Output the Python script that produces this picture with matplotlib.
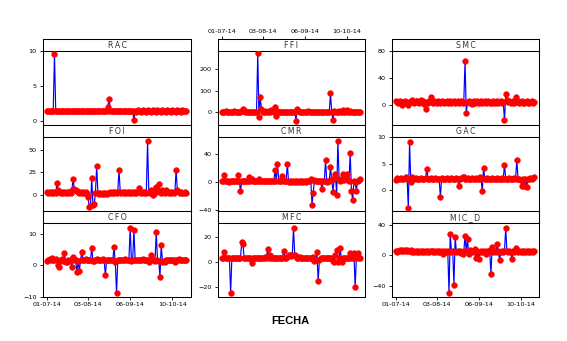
import numpy as np
import pandas as pd
import matplotlib
matplotlib.use("Agg")
import matplotlib.pyplot as plt
import matplotlib.dates as mdates

dates = pd.date_range("2014-07-01", periods=113, freq="D")

RAC = [1.5, 1.5, 1.5, 1.5, 1.5, 1.5, 9.6, 1.5, 1.5, 1.5,
       1.5, 1.5, 1.5, 1.5, 1.5, 1.5, 1.5, 1.5, 1.5, 1.5,
       1.5, 1.5, 1.5, 1.5, 1.5, 1.5, 1.5, 1.5, 1.5, 1.5,
       1.5, 1.5, 1.5, 1.5, 1.5, 1.5, 1.5, 1.5, 1.5, 1.5,
       1.5, 1.5, 1.5, 1.5, 1.5, 1.5, 1.5, 1.5, 1.5, 2.0,
       3.2, 1.5, 1.5, 1.5, 1.5, 1.5, 1.5, 1.5, 1.5, 1.5,
       1.5, 1.5, 1.5, 1.5, 1.5, 1.5, 1.5, 1.5, 1.5, 1.5,
       0.1, 1.5, 1.3, 1.6, 1.4, 1.5, 1.3, 1.6, 1.4, 1.5,
       1.3, 1.6, 1.4, 1.5, 1.3, 1.6, 1.4, 1.5, 1.3, 1.6,
       1.4, 1.5, 1.3, 1.6, 1.4, 1.5, 1.3, 1.6, 1.4, 1.5,
       1.3, 1.6, 1.4, 1.5, 1.3, 1.6, 1.4, 1.5, 1.3, 1.6,
       1.4, 1.5, 1.5]

FFI = [2, 1, 3, 4, 2, 1, 2, 1, 2, 1,
       8, 2, 1, 3, 2, 1, 4, 15, 12, 2,
       1, 2, 1, 3, 2, 1, 2, 1, 3, 272,
       -22, 70, 15, 2, 1, 5, 2, 1, 8, 2,
       12, 10, 2, 25, -17, 5, 2, 1, 2, 1,
       2, 1, 3, 2, 1, 2, 1, 2, 1, 2,
       -38, 15, 5, 2, 1, 2, 1, 2, 1, 2,
       8, 2, 1, 2, 1, 2, 1, 2, 1, 2,
       1, 2, 1, 2, 1, 2, 1, 2, 88, 2,
       -35, 5, 2, 1, 2, 8, 2, 1, 10, 2,
       1, 12, 2, 1, 5, 2, 1, 2, 3, 1,
       2, 1, 2]

SMC = [6, 5, 4, 6, 5, 0, 5, 6, 4, 5,
       0, 5, 6, 8, 5, 4, 6, 7, 5, 4,
       8, 5, 6, 2, -6, 5, 4, 6, 12, 5,
       4, 6, 5, 4, 6, 5, 4, 6, 5, 4,
       5, 6, 4, 5, 6, 4, 5, 6, 4, 5,
       6, 4, 5, 6, 4, 5, 66, -11, 5, 6,
       4, 5, 2, 6, 4, 5, 6, 4, 5, 6,
       4, 5, 6, 4, 5, 6, 4, 5, 3, 6,
       4, 5, 6, 4, 5, 6, 4, 5, -22, 16,
       8, 5, 6, 4, 5, 6, 4, 12, 5, 6,
       4, 5, 6, 4, 3, 5, 6, 4, 4, 5,
       6, 4, 5]

FOI = [3, 2, 3, 2, 3, 2, 3, 2, 13, 5,
       3, 2, 3, 2, 3, 2, 3, 2, 3, 2,
       5, 18, 6, 5, 4, 3, 2, 3, 2, 3,
       2, 3, 1, -3, -14, -13, 19, -12, -11, 2,
       32, 2, 1, 2, 1, 2, 1, 2, 1, 2,
       2, 3, 2, 3, 2, 3, 2, 3, 28, 3,
       2, 3, 2, 3, 2, 3, 2, 3, 2, 3,
       2, 3, 2, 3, 8, 3, 2, 3, 2, 3,
       2, 60, 3, 2, 5, 0, 5, 2, 9, 4,
       12, 3, 2, 5, 3, 2, 5, 3, 2, 3,
       2, 3, 2, 3, 28, 5, 3, 2, 3, 2,
       2, 3, 2]

CMR = [2, 1, 10, 2, 1, 2, 0, 2, 1, 2,
       1, 2, 1, 10, 2, -13, 2, 1, 2, 1,
       2, 1, 7, 2, 4, 2, 1, 2, 1, 2,
       4, 2, 1, 2, 1, 2, 1, 2, 1, 2,
       1, 2, 1, 17, 2, 26, 2, 1, 2, 9,
       2, 1, 2, 26, 0, 1, 0, 1, 0, 1,
       0, 1, 0, 1, 0, 1, 0, 1, 0, 1,
       2, 1, 4, -32, -15, 3, 1, 2, 1, 2,
       1, -10, 2, 1, 31, 0, 2, 1, 21, 4,
       -14, 4, 12, -19, 59, 4, 2, 3, 12, 3,
       4, 12, 3, 1, 41, -12, -26, 1, 0, -12,
       2, 3, 5]

GAC = [2.0, 2.4, 2.2, 2.1, 2.3, 2.2, 2.1, 2.3, 2.6, 2.2,
       -3.4, 9.1, 1.5, 2.6, 2.2, 2.1, 2.3, 2.2, 2.1, 2.2,
       2.3, 2.2, 2.1, 2.2, 2.3, 4.1, 2.2, 2.1, 2.3, 2.2,
       2.1, 2.2, 2.3, 2.2, 2.1, 2.2, -1.2, 2.3, 2.2, 2.1,
       2.2, 2.3, 2.2, 2.1, 2.2, 2.3, 2.2, 2.1, 2.2, 2.3,
       2.2, 0.8, 2.2, 2.3, 2.6, 2.5, 2.2, 2.1, 2.3, 2.2,
       2.1, 2.2, 2.3, 2.2, 2.1, 2.4, 2.2, 2.1, 2.5, 2.2,
       -0.2, 4.3, 2.2, 2.1, 2.3, 2.2, 2.1, 2.2, 2.3, 2.2,
       2.1, 2.2, 2.3, 2.2, 2.1, 2.2, 2.3, 2.2, 4.8, 2.2,
       2.1, 2.2, 2.3, 2.2, 2.1, 2.2, 2.3, 2.2, 5.7, 2.2,
       2.1, 1.9, 0.8, 2.2, 0.9, 2.1, 0.6, 2.2, 2.1, 2.4,
       2.2, 2.3, 2.6]

CFO = [1.5, 1.6, 2.0, 1.8, 2.5, 1.9, 1.8, 2.0, 1.7, 0.0,
       -0.5, 1.8, 2.0, 1.5, 4.0, 1.0, 1.2, 1.8, 1.5, 1.9,
       -0.6, 2.8, 1.8, 1.6, -2.1, 1.5, -1.8, 1.8, 4.3, 1.9,
       1.8, 2.0, 1.7, 1.8, 1.9, 1.8, 5.7, 1.5, 1.4, 1.8,
       2.0, 1.8, 1.7, 1.9, 1.8, 2.0, 1.8, -3.1, 1.8, 1.9,
       1.8, 1.7, 1.9, 1.8, 5.9, 1.0, -8.9, 1.8, 1.9, 1.8,
       1.7, 1.9, 1.8, 2.0, 1.8, 1.7, 1.9, 12.1, 1.5, 1.8,
       11.3, 1.8, 1.9, 1.8, 1.7, 1.9, 1.8, 2.0, 1.8, 1.7,
       1.9, 1.8, 1.0, 1.8, 3.5, 1.9, 1.8, 1.5, 10.7, 1.8,
       1.5, -3.7, 6.5, 1.2, 1.3, 1.2, 1.8, 1.9, 1.8, 1.7,
       1.9, 1.8, 1.7, 1.0, 1.9, 1.8, 2.0, 1.8, 1.7, 1.9,
       1.8, 1.9, 1.8]

MFC = [3.5, 3.2, 8.5, 3.4, 3.3, 3.5, 3.2, -24.8, 3.4, 3.3,
       3.5, 3.2, 3.4, 3.3, 3.5, 3.2, 16.4, 14.3, 3.4, 3.3,
       3.5, 3.2, 3.4, 3.3, -0.8, 3.5, 3.2, 3.4, 3.3, 3.5,
       3.2, 3.4, 3.3, 3.5, 3.2, 4.5, 3.4, 10.6, 3.3, 6.0,
       3.5, 3.2, 3.4, 3.3, 3.5, 3.2, 3.4, 3.3, 3.5, 3.2,
       9.3, 3.4, 3.3, 4.5, 5.5, 6.0, 5.0, 5.5, 27.8, 6.0,
       5.0, 3.5, 3.2, 4.5, 3.3, 3.5, 3.2, 3.4, 3.3, 3.5,
       3.2, 3.4, 3.3, 3.5, 4.5, 1.0, 1.5, 8.0, -15.0, 1.5,
       3.5, 3.2, 3.4, 3.3, 3.5, 3.2, 3.4, 3.3, 3.5, 3.2,
       1.0, 0.5, 6.0, 10.0, 0.0, 3.4, 11.0, 0.0, 3.3, 3.5,
       3.2, 3.4, 3.3, 3.5, 7.4, 3.2, 3.4, 7.4, -20.0, 3.3,
       7.2, 3.5, 3.4]

MIC_D = [5, 4, 5, 7, 6, 7, 5, 7, 6, 7,
         5, 6, 7, 4, 5, 4, 5, 4, 5, 4,
         5, 4, 5, 4, 5, 4, 5, 4, 5, 6,
         4, 5, 4, 5, 4, 5, 4, 5, 2, 4,
         5, 4, 5, -50, 28, 4, 5, -39, 24, 4,
         5, 4, 5, 3, 2, 5, 26, 5, 21, 1,
         7, 4, 5, 4, 8, -3.5, 5, -5.5, 4, 5,
         4, 5, 4, 2, 5, 4, 7, -25, 11, 4,
         5, 4, 15, 5, -6, 4, 5, 4, 5, 36,
         5, 4, 5, 4, -5, 5, 4, 10, 5, 4,
         5, 4, 5, 4, 5, 4, 5, 4, 5, 4,
         5, 4, 5]

panel_names = ["RAC", "FFI", "SMC", "FOI", "CMR", "GAC", "CFO", "MFC", "MIC_D"]
panel_data = [RAC, FFI, SMC, FOI, CMR, GAC, CFO, MFC, MIC_D]
panel_yticks = [[0, 5, 10], [0, 100, 200], [0, 40, 80],
                [0, 25, 50], [-40, 0, 40], [0, 5, 10],
                [-10, 0, 10], [-20, 0, 20], [-40, 0, 40]]
panel_ylim = [(-0.57, 9.92), (-58.6, 283), (-29, 80),
              (-18.4, 65), (-41, 64), (-3.9, 10.06),
              (-10.1, 13.6), (-28, 31.5), (-55, 42.5)]
xtick_dates = pd.to_datetime(["2014-07-01", "2014-08-03", "2014-09-06", "2014-10-10"])
xlim = (pd.Timestamp("2014-06-27 18:00"), pd.Timestamp("2014-10-25"))

W, H = 567, 341
fig = plt.figure(figsize=(W / 100, H / 100), dpi=100)
fig.patch.set_facecolor("white")

col_x = [43, 218, 392]
col_w = [148, 147, 147]
strip_top = [39, 125, 211]
strip_h = 12
plot_h = 74
lw_frame = 0.75


def px_axes(x, top, w, h):
    return fig.add_axes([x / W, 1 - (top + h) / H, w / W, h / H])


for i, (name, vals) in enumerate(zip(panel_names, panel_data)):
    r, c = divmod(i, 3)
    x = col_x[c]
    w = col_w[c]
    st = strip_top[r]
    # strip
    sax = px_axes(x, st, w, strip_h)
    sax.set_xlim(xlim)
    sax.set_yticks([])
    sax.set_facecolor("white")
    for sp in sax.spines.values():
        sp.set_linewidth(lw_frame)
        sp.set_color("black")
    sax.text(0.5, 0.45, "\u2009".join(name), transform=sax.transAxes,
             ha="center", va="center", fontsize=5.6, color="#333333")
    if r == 0 and c == 1:
        sax.xaxis.tick_top()
        sax.set_xticks(xtick_dates)
        sax.xaxis.set_major_formatter(mdates.DateFormatter("%d-%m-%y"))
        sax.tick_params(axis="x", direction="out", length=2.2, width=0.6,
                        pad=1.5, labelsize=4.6, colors="black")
    else:
        sax.set_xticks([])

    ax = px_axes(x, st + strip_h, w, plot_h)
    ax.plot(dates, vals, "-", color="#0000FF", lw=0.85, zorder=2)
    ax.plot(dates, vals, "o", color="#FF0000", ms=4.2, mec="#FF0000",
            mew=0.3, zorder=3)
    ax.set_xlim(xlim)
    ax.set_ylim(panel_ylim[i])
    ax.set_yticks(panel_yticks[i])
    ax.tick_params(axis="y", direction="out", length=2.2, width=0.6,
                   pad=2.5, labelsize=4.6, colors="black")
    for sp in ax.spines.values():
        sp.set_linewidth(lw_frame)
        sp.set_color("black")
    if r == 2 and c != 1:
        ax.set_xticks(xtick_dates)
        ax.xaxis.set_major_formatter(mdates.DateFormatter("%d-%m-%y"))
        ax.tick_params(axis="x", direction="out", length=2.2, width=0.6,
                       pad=1.5, labelsize=4.6, colors="black")
    else:
        ax.set_xticks([])

fig.text(290.5 / W, 1 - 320.5 / H, "FECHA", ha="center", va="center",
         fontsize=8, fontweight="bold", family="Liberation Sans", color="black")

fig.savefig("out.png", dpi=100, facecolor="white")
